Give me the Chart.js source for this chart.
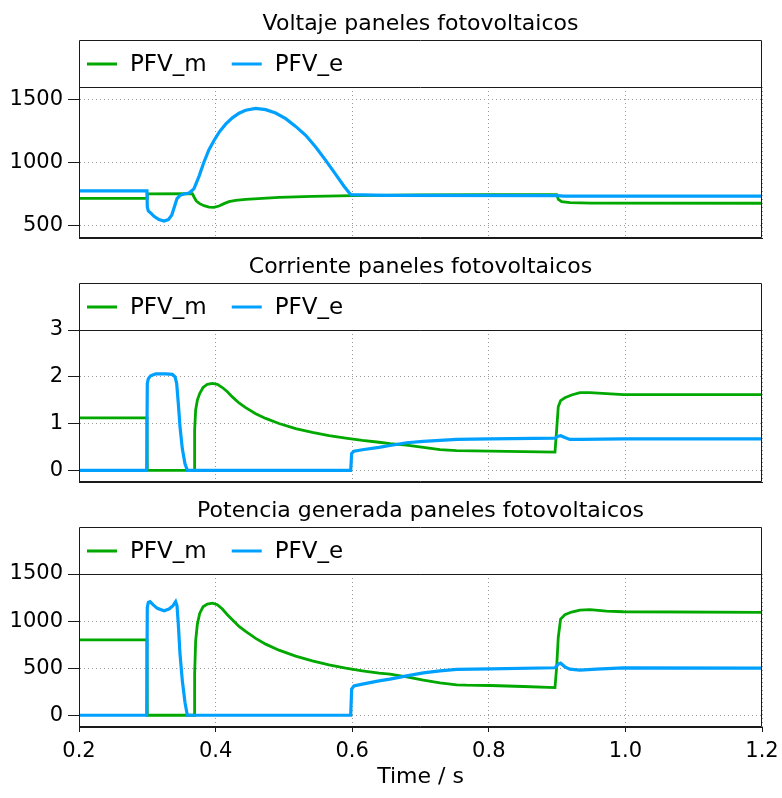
<!DOCTYPE html>
<html>
<head>
<meta charset="utf-8">
<script src="https://cdn.jsdelivr.net/npm/chart.js@4.4.1/dist/chart.umd.min.js"></script>
<style>
  body { margin: 0; background: #ffffff; }
  #wrap { position: relative; width: 782px; height: 798px; }
  canvas { position: absolute; left: 0; }
</style>
</head>
<body>
<div id="wrap">
  <canvas id="c1" width="782" height="245" style="top:0px"></canvas>
  <canvas id="c2" width="782" height="245" style="top:245px"></canvas>
  <canvas id="c3" width="782" height="308" style="top:490px"></canvas>
</div>
<script>
// shared axis / legend
const seriesNames = ['PFV_m', 'PFV_e'];
const timeTicks = [0.2, 0.4, 0.6, 0.8, 1.0, 1.2];
const voltTicks = [500, 1000, 1500];
const currTicks = [0, 1, 2, 3];
const powTicks = [0, 500, 1000, 1500];

// Voltaje paneles fotovoltaicos  [t, V]
const voltM = [[0.2,715],[0.3,715],[0.3,750],[0.366,752],[0.3684,726],[0.3718,694],[0.3767,673],[0.383,657],[0.3903,646],
  [0.3977,644],[0.405,654],[0.4123,673],[0.4196,689],[0.4294,699],[0.444,707],[0.4684,715],[0.4928,723],[0.5416,731],
  [0.6,737],[0.7,742],[0.8,744],[0.8994,745],[0.9018,707],[0.9067,688],[0.919,681],[0.95,677],[1.2,676]];
const voltE = [[0.2,775],[0.2995,775],[0.3,646],[0.3015,615],[0.3049,599],[0.3098,572],[0.3171,546],[0.3245,535],
  [0.3308,546],[0.3357,580],[0.3396,646],[0.3435,713],[0.3479,739],[0.3537,750],[0.3611,758],[0.3659,779],
  [0.3684,792],[0.3757,890],[0.383,1004],[0.3903,1102],[0.3977,1175],[0.405,1240],[0.4147,1305],[0.4245,1355],
  [0.4343,1392],[0.444,1415],[0.4587,1430],[0.4733,1420],[0.4879,1393],[0.5026,1348],[0.5172,1287],[0.5319,1216],
  [0.5465,1123],[0.5612,1017],[0.5758,906],[0.588,811],[0.5978,744],[0.65,738],[0.9,737],[0.91,733],[1.2,733]];

// Corriente paneles fotovoltaicos  [t, A]
const currM = [[0.2,1.12],[0.2995,1.12],[0.3,0],[0.3684,0],[0.3693,0.86],[0.3708,1.29],[0.3733,1.50],[0.3767,1.64],
  [0.3816,1.77],[0.3879,1.84],[0.3952,1.86],[0.4025,1.84],[0.4099,1.77],[0.4172,1.68],[0.4245,1.57],[0.4343,1.44],
  [0.444,1.34],[0.4587,1.21],[0.4733,1.11],[0.4928,1.00],[0.5172,0.89],[0.5416,0.81],[0.566,0.74],[0.5904,0.69],
  [0.6148,0.64],[0.6392,0.60],[0.6553,0.57],[0.6797,0.54],[0.7041,0.49],[0.7285,0.44],[0.7529,0.42],[0.8017,0.41],
  [0.8505,0.40],[0.8969,0.39],[0.8993,0.86],[0.9017,1.36],[0.9051,1.49],[0.9114,1.55],[0.9212,1.61],[0.9334,1.66],
  [0.948,1.66],[0.9724,1.64],[0.9968,1.62],[1.2,1.62]];
const currE = [[0.2,0],[0.2991,0],[0.3,1.86],[0.3015,1.96],[0.3049,2.02],[0.3122,2.06],[0.3269,2.06],[0.3367,2.05],
  [0.3406,2.0],[0.343,1.86],[0.3454,1.43],[0.3479,0.93],[0.3513,0.46],[0.3552,0.14],[0.3586,0],[0.5978,0],
  [0.5992,0.36],[0.6026,0.41],[0.6148,0.44],[0.6392,0.49],[0.6553,0.53],[0.6797,0.59],[0.7041,0.62],[0.7285,0.64],
  [0.7529,0.66],[0.8017,0.67],[0.8969,0.69],[0.9017,0.73],[0.9051,0.74],[0.9114,0.70],[0.9187,0.66],[0.9334,0.66],
  [0.9968,0.67],[1.2,0.67]];

// Potencia generada paneles fotovoltaicos  [t, W]
const powM = [[0.2,800],[0.2995,800],[0.3,0],[0.3684,0],[0.3693,436],[0.3708,791],[0.3733,968],[0.3767,1082],
  [0.3816,1152],[0.3879,1181],[0.3952,1191],[0.4025,1174],[0.4099,1128],[0.4172,1067],[0.4245,1014],[0.4343,943],
  [0.444,890],[0.4587,816],[0.4733,755],[0.4928,691],[0.5172,628],[0.5416,578],[0.566,535],[0.5904,500],
  [0.6148,472],[0.6392,447],[0.6553,436],[0.6797,408],[0.7041,372],[0.7285,344],[0.7529,323],[0.7676,319],
  [0.8017,316],[0.8505,305],[0.8969,294],[0.8993,507],[0.9017,826],[0.9051,1021],[0.9114,1067],[0.9212,1096],
  [0.9334,1117],[0.948,1121],[0.9724,1106],[0.9968,1099],[1.2,1092]];
const powE = [[0.2,0],[0.2991,0],[0.3,1145],[0.3015,1199],[0.304,1206],[0.3083,1174],[0.3147,1135],[0.3245,1110],
  [0.3318,1128],[0.3376,1163],[0.3415,1206],[0.3435,1163],[0.3454,968],[0.3479,649],[0.3513,365],[0.3552,135],
  [0.3586,0],[0.5978,0],[0.5992,277],[0.6026,312],[0.6148,330],[0.6392,365],[0.6553,383],[0.6797,418],[0.7041,450],
  [0.7285,472],[0.7529,486],[0.8017,493],[0.8969,504],[0.9017,543],[0.9051,553],[0.9114,514],[0.9187,489],
  [0.9334,479],[0.9578,489],[0.9968,504],[1.2,500]];

const GREEN = '#00a800';
const BLUE = '#00a0ff';
const FONT = '"DejaVu Sans", Verdana, sans-serif';

const framePlugin = {
  id: 'frame',
  afterDraw(chart, args, opts) {
    const { ctx, chartArea: a } = chart;
    const L = Math.round(a.left) + 0.5, R = Math.round(a.right) - 0.5;
    const T = Math.round(a.top) + 0.5, B = Math.round(a.bottom) - 0.5;
    const boxTop = T - opts.legendH;
    ctx.save();
    ctx.strokeStyle = '#1a1a1a';
    ctx.lineWidth = 1;
    ctx.beginPath();
    ctx.rect(L, boxTop, R - L, B - boxTop);
    ctx.moveTo(L, T); ctx.lineTo(R, T);
    ctx.stroke();

    // title
    ctx.fillStyle = '#000';
    ctx.font = '22px ' + FONT;
    ctx.textAlign = 'center';
    ctx.textBaseline = 'alphabetic';
    ctx.fillText(opts.title, (a.left + a.right) / 2, boxTop - 11);

    // legend
    const midY = (boxTop + T) / 2;
    let x = a.left + 8;
    ctx.font = '23px ' + FONT;
    ctx.textAlign = 'left';
    ctx.textBaseline = 'middle';
    chart.data.datasets.forEach(ds => {
      ctx.strokeStyle = ds.borderColor;
      ctx.lineWidth = 3;
      ctx.beginPath(); ctx.moveTo(x, midY); ctx.lineTo(x + 30, midY); ctx.stroke();
      ctx.fillStyle = '#000';
      ctx.fillText(ds.label, x + 43, midY + 1);
      x += 43 + ctx.measureText(ds.label).width + 25;
    });
    ctx.restore();
  }
};

function makePanel(id, title, mData, eData, yMin, yMax, yTicks, topPad, xHeight, showX) {
  const toXY = arr => arr.map(p => ({ x: p[0], y: p[1] }));
  return new Chart(document.getElementById(id), {
    type: 'line',
    data: {
      datasets: [
        { label: seriesNames[0], data: toXY(mData), borderColor: GREEN, borderWidth: 2.8, order: 1 },
        { label: seriesNames[1], data: toXY(eData), borderColor: BLUE, borderWidth: 3.2, order: 0 }
      ]
    },
    options: {
      responsive: false,
      animation: false,
      layout: { padding: { left: 0, right: 20, top: topPad, bottom: 0 } },
      elements: { point: { radius: 0 }, line: { tension: 0, fill: false } },
      plugins: {
        legend: { display: false },
        tooltip: { enabled: false },
        frame: { title: title, legendH: 47 }
      },
      scales: {
        x: {
          type: 'linear',
          min: 0.2, max: 1.2,
          afterBuildTicks: s => { s.ticks = timeTicks.map(v => ({ value: v })); },
          afterFit: s => { s.height = xHeight; s.paddingLeft = 0; s.paddingRight = 0; },
          ticks: {
            display: showX,
            padding: 7,
            color: '#000',
            font: { family: FONT, size: 21 },
            callback: v => v.toFixed(1)
          },
          grid: { color: '#9a9a9a', drawTicks: showX, tickLength: 5, tickColor: '#1a1a1a', tickBorderDash: [] },
          border: { display: true, color: '#1a1a1a', dash: [1, 3] },
          title: {
            display: showX,
            text: 'Time / s',
            color: '#000',
            font: { family: FONT, size: 22 },
            padding: { top: 0, bottom: 8 }
          }
        },
        y: {
          min: yMin, max: yMax,
          afterBuildTicks: s => { s.ticks = yTicks.map(v => ({ value: v })); },
          afterFit: s => { s.width = 79; s.paddingTop = 0; s.paddingBottom = 0; },
          ticks: { padding: 5, color: '#000', font: { family: FONT, size: 21 }, callback: v => String(v) },
          grid: { color: '#9a9a9a', tickLength: 11, tickColor: '#1a1a1a', tickBorderDash: [] },
          border: { display: true, color: '#1a1a1a', dash: [1, 3] }
        }
      }
    },
    plugins: [framePlugin]
  });
}

makePanel('c1', 'Voltaje paneles fotovoltaicos', voltM, voltE, 400, 1600, voltTicks, 87, 7, false);
makePanel('c2', 'Corriente paneles fotovoltaicos', currM, currE, -0.25, 3, currTicks, 85, 8, false);
makePanel('c3', 'Potencia generada paneles fotovoltaicos', powM, powE, -125, 1500, powTicks, 84, 71, true);
</script>
</body>
</html>
